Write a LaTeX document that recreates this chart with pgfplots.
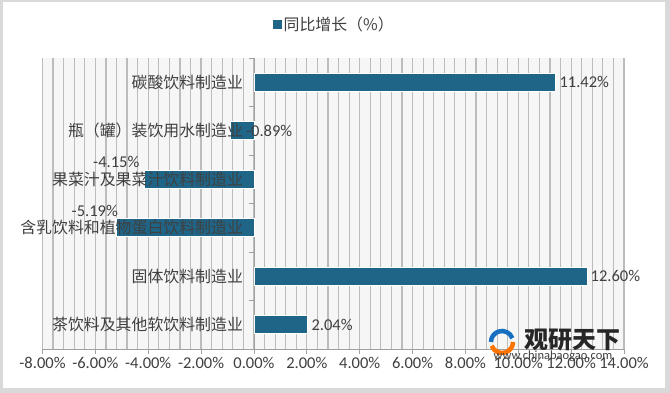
\documentclass[border=0pt]{standalone}
\usepackage{pgfplots}
\pgfplotsset{compat=1.18}
\usepackage{fontspec}
\setmainfont{Carlito}
\newfontfamily\cjk{Noto Sans CJK SC}
\definecolor{barcol}{RGB}{31,101,135}
\definecolor{txt}{RGB}{64,64,64}
\definecolor{gridc}{RGB}{188,188,188}
\definecolor{bgc}{RGB}{246,246,246}
\definecolor{axc}{RGB}{160,160,160}
\newcommand{\lblfont}{\fontsize{16.5bp}{19bp}\selectfont}
\newcommand{\cjkfont}{\fontsize{15.9bp}{19bp}\selectfont}
\newcommand{\pctlbl}{\pgfmathprintnumber[fixed,fixed zerofill,precision=2]{\pgfplotspointmeta}\%}
\pgfplotsset{
  frame/.style={at={(42.5bp,44bp)}, anchor=south west,
    scale only axis, width=581.5bp, height=291bp,
    xmin=-8, xmax=14, ymin=-0.5, ymax=5.5, clip=false},
}
\begin{document}
\begin{tikzpicture}
\useasboundingbox (0,0) rectangle (670bp,393bp);
\fill[gray!30] (0,0) rectangle (670bp,393bp);
\fill[white] (3bp,5bp) rectangle (665bp,391bp);
\begin{axis}[
  frame,
  axis x line=bottom, axis y line=middle,
  axis line style={-, draw=axc, line width=0.8bp},
  axis background/.style={fill=bgc},
  /pgf/number format/assume math mode=true,
  xtick={-8,-6,...,14},
  minor x tick num=4,
  xmajorgrids, xminorgrids,
  grid style={draw=gridc, line width=1.2bp},
  minor grid style={draw=gridc, line width=1.2bp},
  tick align=outside, major tick length=5bp, minor tick length=0pt,
  tick style={draw=axc, line width=0.8bp},
  xticklabel={\pgfmathprintnumber[fixed,fixed zerofill,precision=2]{\tick}\%},
  xticklabel style={font=\lblfont, text=txt},
  ytick=\empty,
  extra y ticks={0.5,1.5,2.5,3.5,4.5,5.5},
  extra y tick labels={},
  extra y tick style={ytick style={draw=axc}},
  legend style={at={(0.5,1)}, anchor=center, yshift=34bp, xshift=1bp, draw=none, fill=none, font=\cjk\cjkfont, text=txt},
  legend image code/.code={\fill[barcol] (0bp,-4bp) rectangle (8bp,4bp);},
  every node near coord/.append style={font=\lblfont, text=txt},
  point meta=x,
]
\addplot[xbar, bar width=18bp, bar shift=0pt, fill=barcol, draw=white, line width=0.8bp,
  nodes near coords={\pctlbl}, every node near coord/.append style={anchor=west}]
  coordinates {(11.42,5) (12.60,1) (2.04,0)};
\addlegendentry{同比增长（\%）}
\addplot[forget plot, xbar, bar width=18bp, bar shift=0pt, fill=barcol, draw=white, line width=0.8bp,
  nodes near coords={\pctlbl}, every node near coord/.append style={anchor=west, xshift=12bp}]
  coordinates {(-0.89,4)};
\addplot[forget plot, xbar, bar width=18bp, bar shift=0pt, fill=barcol, draw=white, line width=0.8bp,
  nodes near coords={\pctlbl}, every node near coord/.append style={anchor=center, xshift=-28bp, yshift=17bp}]
  coordinates {(-4.15,3)};
\addplot[forget plot, xbar, bar width=18bp, bar shift=0pt, fill=barcol, draw=white, line width=0.8bp,
  nodes near coords={\pctlbl}, every node near coord/.append style={anchor=center, xshift=-22bp, yshift=17bp}]
  coordinates {(-5.19,2)};
\end{axis}
\begin{axis}[
  frame,
  axis x line=none, axis y line=middle,
  axis line style={draw=none},
  xtick=\empty,
  ytick={0,...,5},
  yticklabels={茶饮料及其他软饮料制造业,固体饮料制造业,含乳饮料和植物蛋白饮料制造业,果菜汁及果菜汁饮料制造业,瓶（罐）装饮用水制造业,碳酸饮料制造业},
  yticklabel style={font=\cjk\cjkfont, text=txt, xshift=-5bp},
  ytick style={draw=none},
  major tick length=5bp,
]
\addplot[draw=none, forget plot] coordinates {(0,0) (1,1)};
\end{axis}
\draw[line width=4.5bp, color=orange!90!red] (502bp,51bp) ++(200:11bp) arc (200:360:11bp);
\draw[line width=4.5bp, color=cyan!50!blue] (502bp,51bp) ++(20:11bp) arc (20:180:11bp);
\node[font=\cjk\bfseries\fontsize{24bp}{26bp}\selectfont, text=black!85] at (572bp,53bp) {观研天下};
\node[font=\fontsize{12.5bp}{14bp}\selectfont, text=black!75] at (553bp,37bp) {www.chinabaogao.com};
\end{tikzpicture}
\end{document}
